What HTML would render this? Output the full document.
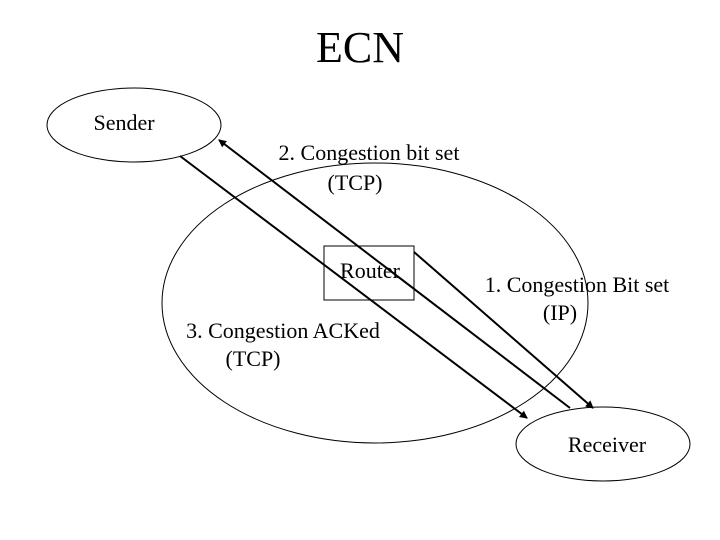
<!DOCTYPE html>
<html><head><style>
body{margin:0;background:#fff;}
svg{display:block;}
text{font-family:"Liberation Serif",serif;fill:#000;}
</style></head><body>
<svg width="720" height="540" viewBox="0 0 720 540">
<defs><marker id="a" markerWidth="8" markerHeight="8" refX="7" refY="4" orient="auto" markerUnits="userSpaceOnUse"><path d="M0,0 L8,4 L0,8 z" fill="#000"/></marker></defs>
<text x="360" y="62" font-size="44" text-anchor="middle">ECN</text>
<ellipse cx="134" cy="125" rx="87" ry="37" fill="none" stroke="#000" stroke-width="1"/>
<text x="124" y="130" font-size="22" text-anchor="middle">Sender</text>
<ellipse cx="375" cy="303" rx="213" ry="140" fill="none" stroke="#000" stroke-width="1"/>
<ellipse cx="603" cy="444" rx="87" ry="37" fill="#fff" stroke="#000" stroke-width="1"/>
<text x="607" y="452" font-size="22" text-anchor="middle">Receiver</text>
<rect x="324" y="246" width="90" height="54" fill="none" stroke="#000" stroke-width="1"/>
<text x="370" y="278" font-size="22" text-anchor="middle">Router</text>
<line x1="570" y1="408" x2="219" y2="140" stroke="#000" stroke-width="2" marker-end="url(#a)"/>
<line x1="180" y1="156" x2="527" y2="418" stroke="#000" stroke-width="2" marker-end="url(#a)"/>
<line x1="414" y1="252" x2="593" y2="408" stroke="#000" stroke-width="2" marker-end="url(#a)"/>
<text x="369" y="160" font-size="22" text-anchor="middle">2. Congestion bit set</text>
<text x="355" y="190" font-size="22" text-anchor="middle">(TCP)</text>
<text x="577" y="292" font-size="22" text-anchor="middle">1. Congestion Bit set</text>
<text x="560" y="320" font-size="22" text-anchor="middle">(IP)</text>
<text x="283" y="338" font-size="22" text-anchor="middle">3. Congestion ACKed</text>
<text x="253" y="366" font-size="22" text-anchor="middle">(TCP)</text>
</svg>
</body></html>
